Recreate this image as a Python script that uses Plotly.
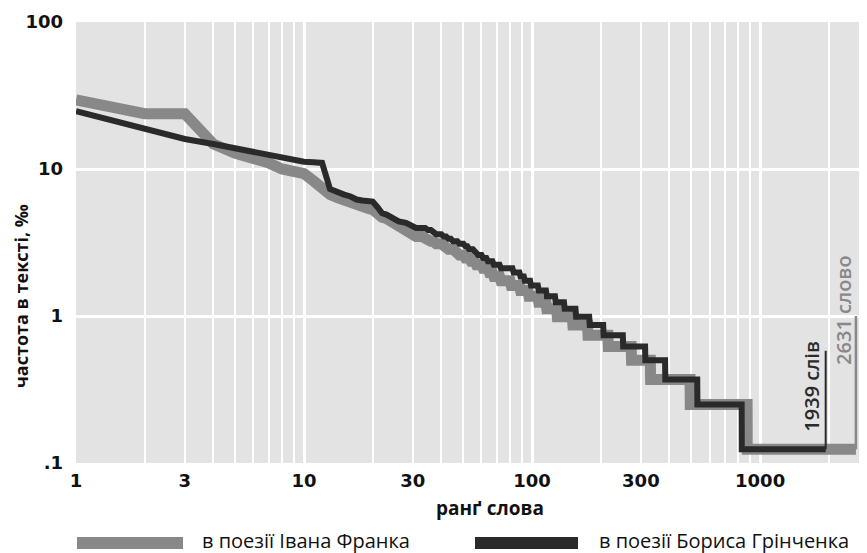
import math
import plotly.graph_objects as go

# ---------------- data ----------------
# Ivan Franko (grey) - head of the distribution, rank -> frequency (per mille)
fr_head_rank = [1, 2, 3, 4, 5, 6, 7, 8, 9, 10, 11, 12, 13, 14, 15, 16, 17, 18, 19, 20,
                21, 22, 23, 24, 25, 27, 30]
fr_head_freq = [29.5, 23.8, 23.8, 14.8, 12.8, 11.9, 11.0, 10.0, 9.6, 9.3, 8.3, 7.2, 6.7, 6.4,
                6.1, 5.9, 5.8, 5.6, 5.4, 5.3, 4.9, 4.7, 4.6, 4.4, 4.3, 4.0, 3.6]
# Franko - stepped tail: frequency level and last rank at that level
fr_step_freq = [3.47, 3.35, 3.22, 3.10, 2.98, 2.85, 2.73, 2.60, 2.48, 2.36, 2.23, 2.11, 1.98,
                1.86, 1.74, 1.61, 1.49, 1.36, 1.24, 1.12, 0.99, 0.87, 0.74, 0.62, 0.50, 0.37,
                0.25, 0.124]
fr_step_last = [33, 35, 37, 40, 42, 45, 47, 50, 53, 56, 60, 64, 67, 72, 80, 88, 96, 106, 115,
                128, 150, 175, 215, 272, 330, 493, 877, 2631]

# Borys Hrinchenko (dark) - head
hr_head_rank = [1, 2, 3, 4, 5, 6, 7, 8, 9, 10, 11, 12, 13, 14, 15, 16, 17, 18, 19, 20,
                21, 22, 23, 24, 25, 26, 28, 30]
hr_head_freq = [24.7, 18.7, 16.0, 14.8, 13.8, 13.2, 12.6, 11.9, 11.6, 11.2, 11.1, 11.0, 7.3,
                6.9, 6.7, 6.5, 6.2, 6.1, 6.1, 6.0, 5.5, 5.0, 4.9, 4.7, 4.6, 4.4, 4.3, 4.1]
hr_step_freq = [3.97, 3.84, 3.72, 3.60, 3.47, 3.35, 3.22, 3.10, 2.98, 2.85, 2.73, 2.60, 2.48,
                2.36, 2.23, 2.11, 1.98, 1.86, 1.74, 1.61, 1.49, 1.36, 1.24, 1.12, 0.99, 0.87,
                0.74, 0.62, 0.50, 0.37, 0.25, 0.124]
hr_step_last = [34, 36, 37, 40, 42, 44, 47, 50, 52, 55, 57, 60, 63, 67, 72, 82, 88, 92, 98,
                106, 115, 126, 138, 155, 178, 205, 250, 313, 383, 530, 830, 1939]

# vocabulary-size markers
marker_rank = [1939, 2631]
marker_top = [0.58, 1.0]
marker_label = ["1939 слів", "2631 слово"]

series_names = ["в поезії Івана Франка", "в поезії Бориса Грінченка"]

x_tick_vals = [1, 3, 10, 30, 100, 300, 1000]
x_tick_text = ["1", "3", "10", "30", "100", "300", "1000"]
y_tick_vals = [0.1, 1, 10, 100]
y_tick_text = [".1", "1", "10", "100"]
x_title = "ранґ слова"
y_title = "частота в тексті, ‰"

# ---------------- styling / geometry ----------------
GREY = "#888888"
DARK = "#2a2a2a"
BG = "#e3e3e3"
FONT = "Open Sans"
TICKFONT = "DejaVu Sans"
OFF = 8                      # page body margin offset
W, H = 867 - OFF, 553 - OFF  # figure size
# plot area in page pixels (from the reference)
PX_L, PX_R, PX_T, PX_B = 76, 865, 22, 463
L = PX_L - OFF
T = PX_T - OFF
R = W - (PX_R - OFF)
B = H - (PX_B - OFF)
PW, PH = PX_R - PX_L, PX_B - PX_T


def px_x(px):
    return (px - PX_L) / PW


def px_y(py):
    return (PX_B - py) / PH


def build(head_r, head_f, step_f, step_last):
    xs, ys = list(head_r), list(head_f)
    prev = head_r[-1]
    for f, last in zip(step_f, step_last):
        xs += [prev + 1, last]
        ys += [f, f]
        prev = last
    return xs, ys


fr_x, fr_y = build(fr_head_rank, fr_head_freq, fr_step_freq, fr_step_last)
hr_x, hr_y = build(hr_head_rank, hr_head_freq, hr_step_freq, hr_step_last)

fig = go.Figure()
fig.add_trace(go.Scatter(x=fr_x, y=fr_y, mode="lines", name=series_names[0],
                         line=dict(color=GREY, width=11)))
fig.add_trace(go.Scatter(x=hr_x, y=hr_y, mode="lines", name=series_names[1],
                         line=dict(color=DARK, width=6)))
fig.add_trace(go.Scatter(x=[marker_rank[0], marker_rank[0]], y=[hr_step_freq[-1], marker_top[0]],
                         mode="lines", line=dict(color=DARK, width=2), xaxis="x2"))
fig.add_trace(go.Scatter(x=[marker_rank[1], marker_rank[1]], y=[fr_step_freq[-1], marker_top[1]],
                         mode="lines", line=dict(color=GREY, width=2.5), xaxis="x2"))

xr = [0, 3.46]
minor_vals = [m * 10 ** k for k in range(4) for m in range(1, 10)]

fig.update_layout(
    width=W, height=H,
    margin=dict(l=L, r=R, t=T, b=B, autoexpand=False),
    paper_bgcolor="white", plot_bgcolor=BG,
    showlegend=False,
    font=dict(family=FONT, color="#111111"),
    xaxis=dict(type="log", range=xr, tickmode="array", tickvals=x_tick_vals,
               ticktext=x_tick_text, showgrid=False, zeroline=False, showline=False,
               ticks="", ticklabelstandoff=5, automargin=False,
               tickfont=dict(family=TICKFONT, size=18, weight="bold", color="#111111")),
    xaxis2=dict(type="log", range=xr, overlaying="x", anchor="y", tickmode="array",
                tickvals=[1, 10, 100, 1000], showticklabels=False, ticks="",
                showgrid=True, gridcolor="white", gridwidth=3, zeroline=False,
                automargin=False,
                minor=dict(tickmode="array", tickvals=minor_vals, showgrid=True,
                           gridcolor="white", gridwidth=1.5, ticks="")),
    yaxis=dict(type="log", range=[-1, 2], tickmode="array", tickvals=y_tick_vals,
               ticktext=y_tick_text, showgrid=True, gridcolor="white", gridwidth=3,
               zeroline=False, showline=False, ticks="", ticklabelstandoff=12,
               automargin=False,
               tickfont=dict(family=TICKFONT, size=18, weight="bold", color="#111111")),
)

ann = []
ann.append(dict(text=y_title, xref="paper", yref="paper", x=px_x(21), y=px_y(296),
                textangle=-90, showarrow=False, xanchor="center", yanchor="middle",
                borderpad=0,
                font=dict(family=FONT, size=18, weight="bold", color="#111111")))
ann.append(dict(text=x_title, xref="paper", yref="paper", x=px_x(490), y=px_y(508),
                showarrow=False, xanchor="center", yanchor="middle",
                font=dict(family=FONT, size=19, weight="bold", color="#111111")))
ann.append(dict(text=marker_label[0], xref="x", yref="paper", x=math.log10(marker_rank[0]),
                xshift=-15, y=px_y(386), textangle=-90, showarrow=False,
                xanchor="center", yanchor="middle",
                font=dict(family=FONT, size=20, weight=600, color=DARK)))
ann.append(dict(text=marker_label[1], xref="x", yref="paper", x=math.log10(marker_rank[1]),
                xshift=-13, y=px_y(310), textangle=-90, showarrow=False,
                xanchor="center", yanchor="middle",
                font=dict(family=FONT, size=20, weight=600, color=GREY)))
ann.append(dict(text=series_names[0], xref="paper", yref="paper", x=px_x(201), y=px_y(540),
                showarrow=False, xanchor="left", yanchor="middle", borderpad=0,
                font=dict(family=FONT, size=20, color="#111111")))
ann.append(dict(text=series_names[1], xref="paper", yref="paper", x=px_x(598), y=px_y(540),
                showarrow=False, xanchor="left", yanchor="middle", borderpad=0,
                font=dict(family=FONT, size=20, color="#111111")))
fig.update_layout(annotations=ann)

fig.add_shape(type="rect", xref="paper", yref="paper", x0=px_x(77), x1=px_x(183),
              y0=px_y(549), y1=px_y(537), fillcolor=GREY, line=dict(width=0))
fig.add_shape(type="rect", xref="paper", yref="paper", x0=px_x(475), x1=px_x(578),
              y0=px_y(549), y1=px_y(537), fillcolor=DARK, line=dict(width=0))

fig.write_html("out.html")
